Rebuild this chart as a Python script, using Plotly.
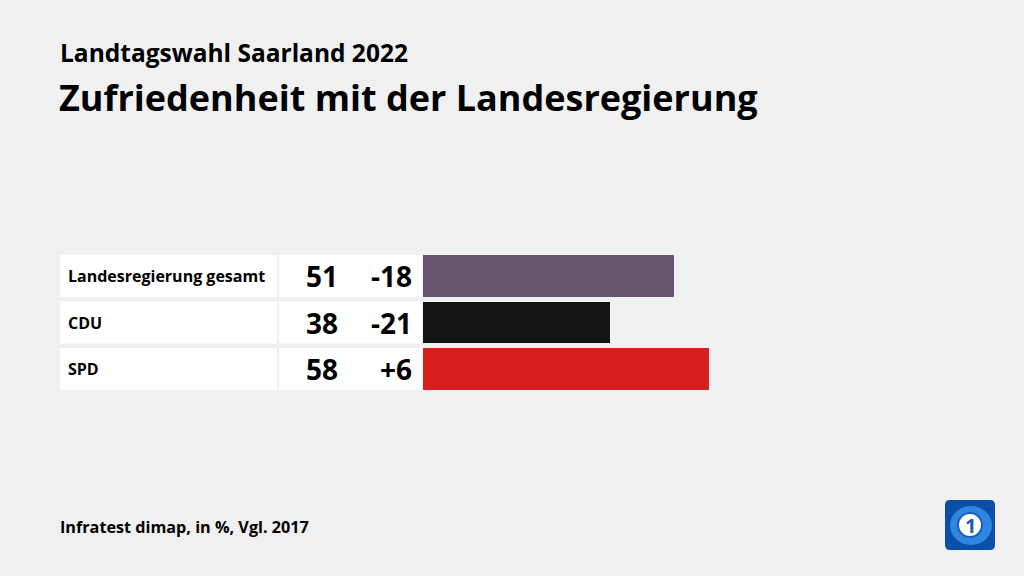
import plotly.graph_objects as go

categories = ["Landesregierung gesamt", "CDU", "SPD"]
values = [51, 38, 58]
changes = ["-18", "-21", "+6"]
colors = ["#67546f", "#141414", "#d61f1f"]

W, H = 1024, 576
FONT = "Open Sans"

def px(x):
    return x / W

def py(y):
    return 1 - y / H

fig = go.Figure()
fig.add_trace(go.Bar(
    x=values, y=categories, orientation="h",
    marker=dict(color=colors, line=dict(width=0)),
    width=0.9, hoverinfo="skip",
))

shapes = []
annotations = []
for i, (cat, v, ch) in enumerate(zip(categories, values, changes)):
    shapes.append(dict(type="rect", xref="paper", yref="y", x0=px(60), x1=px(277),
                       y0=i - 0.45, y1=i + 0.45, fillcolor="white", line=dict(width=0), layer="below"))
    shapes.append(dict(type="rect", xref="paper", yref="y", x0=px(279), x1=px(422),
                       y0=i - 0.45, y1=i + 0.45, fillcolor="white", line=dict(width=0), layer="below"))
    annotations.append(dict(x=px(66), y=cat, xref="paper", yref="y", text=cat, showarrow=False,
                            xanchor="left", yanchor="middle",
                            font=dict(family=FONT, size=16, color="#000", weight="bold")))
    annotations.append(dict(x=px(340), y=cat, xref="paper", yref="y", text=str(v), showarrow=False,
                            xanchor="right", yanchor="middle",
                            font=dict(family=FONT, size=28, color="#000", weight="bold")))
    annotations.append(dict(x=px(414), y=cat, xref="paper", yref="y", text=ch, showarrow=False,
                            xanchor="right", yanchor="middle",
                            font=dict(family=FONT, size=28, color="#000", weight="bold")))

annotations += [
    dict(x=px(58), y=py(52), xref="paper", yref="paper", text="Landtagswahl Saarland 2022",
         showarrow=False, xanchor="left", yanchor="middle",
         font=dict(family=FONT, size=24.5, color="#000", weight="bold")),
    dict(x=px(57), y=py(98), xref="paper", yref="paper", text="Zufriedenheit mit der Landesregierung",
         showarrow=False, xanchor="left", yanchor="middle",
         font=dict(family=FONT, size=36, color="#000", weight="bold")),
    dict(x=px(58), y=py(527), xref="paper", yref="paper", text="Infratest dimap, in %, Vgl. 2017",
         showarrow=False, xanchor="left", yanchor="middle",
         font=dict(family=FONT, size=16.2, color="#000", weight="bold")),
    dict(x=px(970), y=py(525), xref="paper", yref="paper", text="1",
         showarrow=False, xanchor="center", yanchor="middle",
         font=dict(family=FONT, size=20, color="#1b5fb5", weight="bold")),
]

# logo
shapes += [
    dict(type="path", xref="paper", yref="paper",
         path=f"M {px(950)},{py(500)} L {px(990)},{py(500)} Q {px(995)},{py(500)} {px(995)},{py(505)} "
              f"L {px(995)},{py(545)} Q {px(995)},{py(550)} {px(990)},{py(550)} L {px(950)},{py(550)} "
              f"Q {px(945)},{py(550)} {px(945)},{py(545)} L {px(945)},{py(505)} Q {px(945)},{py(500)} {px(950)},{py(500)} Z",
         fillcolor="#0b4fa8", line=dict(width=0)),
    dict(type="circle", xref="paper", yref="paper", x0=px(950), x1=px(992), y0=py(545), y1=py(506),
         fillcolor="#2f86e0", line=dict(width=0)),
    dict(type="circle", xref="paper", yref="paper", x0=px(958), x1=px(982), y0=py(537), y1=py(513),
         fillcolor="white", line=dict(color="#1b5fb5", width=2)),
]

row = 46.5
top = 276
fig.update_layout(
    width=W, height=H, margin=dict(l=0, r=0, t=0, b=0),
    paper_bgcolor="#f0f0f0", plot_bgcolor="rgba(0,0,0,0)",
    showlegend=False, bargap=0,
    xaxis=dict(domain=[px(423), px(916)], range=[0, 100], visible=False, fixedrange=True),
    yaxis=dict(domain=[0, 1], type="category", categoryorder="array", categoryarray=categories,
               range=[(H - top) / row, -top / row], visible=False, fixedrange=True),
    shapes=shapes, annotations=annotations,
)

fig.write_html("out.html", config=dict(displayModeBar=False),
               post_script="document.body.style.margin='0';document.body.style.overflow='hidden';"
                           "document.body.style.background='#f0f0f0';")
